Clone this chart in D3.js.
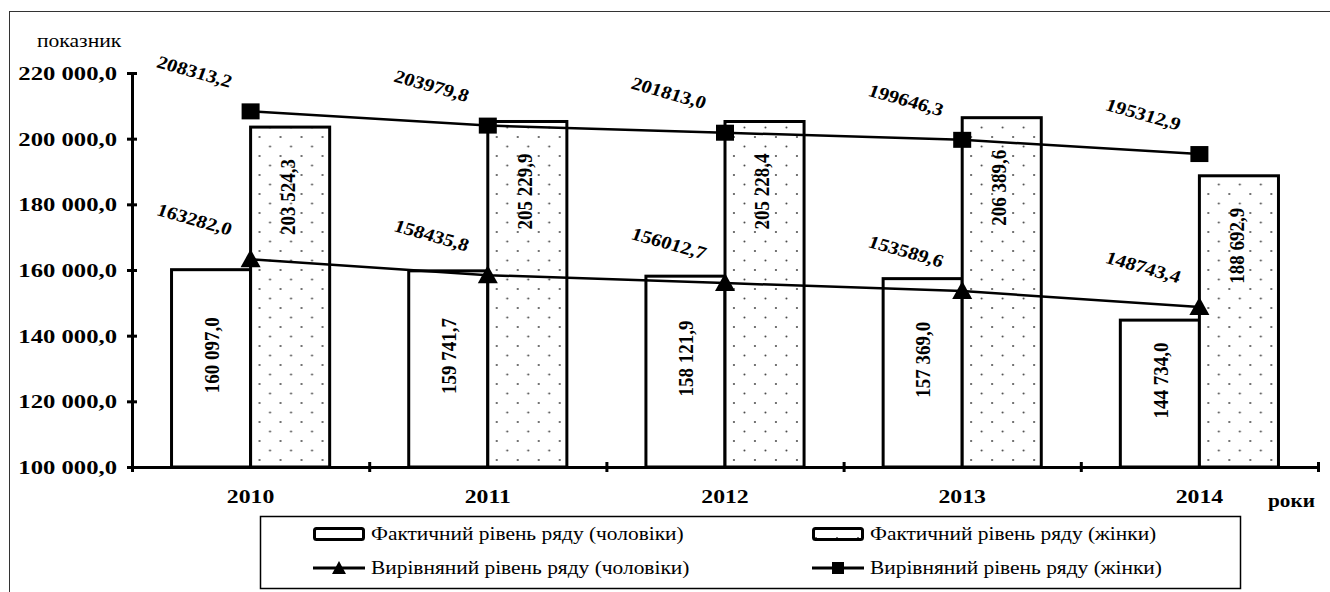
<!DOCTYPE html>
<html>
<head>
<meta charset="utf-8">
<script src="https://cdn.jsdelivr.net/npm/d3@7"></script>
<style>
  body { margin: 0; background: #fff; }
</style>
</head>
<body>
<div id="chart"></div>
<script>
// data
const years = ["2010", "2011", "2012", "2013", "2014"];
const menActual = [160097.0, 159741.7, 158121.9, 157369.0, 144734.0];
const womenActual = [203524.3, 205229.9, 205228.4, 206389.6, 188692.9];
const menTrend = [163282.0, 158435.8, 156012.7, 153589.6, 148743.4];
const womenTrend = [208313.2, 203979.8, 201813.0, 199646.3, 195312.9];
const yTicks = [100000, 120000, 140000, 160000, 180000, 200000, 220000];
const legendLabels = [
  "Фактичний рівень ряду (чоловіки)",
  "Фактичний рівень ряду (жінки)",
  "Вирівняний  рівень ряду  (чоловіки)",
  "Вирівняний рівень ряду (жінки)"
];

const width = 1330, height = 592;
const plotL = 132, plotR = 1318, plotT = 73, plotB = 467;
const FONT = "'Liberation Serif', Tinos, 'Times New Roman', 'DejaVu Serif', serif";

const locale = d3.formatLocale({decimal: ",", thousands: " ", grouping: [3], currency: ["", ""]});
const fmtBar = locale.format(",.1f");
const fmtTrend = locale.format(".1f");

const svg = d3.select("#chart").append("svg")
  .attr("width", width)
  .attr("height", height)
  .style("font-family", FONT);

// dotted fill for the women bars
const defs = svg.append("defs");
const pat = defs.append("pattern")
  .attr("id", "dots")
  .attr("patternUnits", "userSpaceOnUse")
  .attr("width", 21)
  .attr("height", 19);
pat.append("rect").attr("width", 21).attr("height", 19).attr("fill", "#fff");
pat.append("circle").attr("cx", 4).attr("cy", 4).attr("r", 1).attr("fill", "#444");
pat.append("circle").attr("cx", 14.5).attr("cy", 13.5).attr("r", 1).attr("fill", "#444");

// outer frame
svg.append("rect")
  .attr("x", 9.5).attr("y", 11.5)
  .attr("width", 1340).attr("height", 600)
  .attr("fill", "none").attr("stroke", "#333").attr("stroke-width", 1);

const x0 = d3.scaleBand().domain(years).range([plotL, plotR])
  .paddingInner(1 / 3).paddingOuter(1 / 6);
const x1 = d3.scaleBand().domain(["m", "w"]).range([0, x0.bandwidth()]);
const y = d3.scaleLinear().domain([100000, 220000]).range([plotB, plotT]);
const xEdges = d3.scaleLinear().domain([0, years.length]).range([plotL, plotR]);

// helper for serif text, stretched sideways like in the picture
function stretched(sel, x, yy, rot, sx) {
  return sel
    .style("font-family", FONT)
    .attr("fill", "#000")
    .attr("transform", `translate(${x},${yy}) scale(${sx || 1.2},1)` + (rot ? ` rotate(${rot})` : ""));
}

// y axis
const yAxis = svg.append("g")
  .attr("transform", `translate(${plotL},0)`)
  .call(d3.axisLeft(y).tickValues(yTicks).tickFormat(fmtBar).tickSize(5).tickSizeOuter(0));
yAxis.attr("font-family", null);
yAxis.select(".domain").attr("stroke-width", 3);
yAxis.selectAll(".tick line").attr("x1", -5).attr("x2", 5).attr("stroke-width", 3);
yAxis.selectAll(".tick text")
  .attr("x", null).attr("dy", "0.35em")
  .style("font-size", "19px").style("font-weight", "bold")
  .each(function () { stretched(d3.select(this), -15, 0, 0, 1.3); });

// x axis: ticks on category edges, labels on centers
const xAxis = svg.append("g")
  .attr("transform", `translate(0,${plotB})`)
  .call(d3.axisBottom(xEdges).ticks(years.length).tickFormat("").tickSizeOuter(0));
xAxis.select(".domain").attr("stroke-width", 3);
xAxis.selectAll(".tick line").attr("y1", -5).attr("y2", 5).attr("stroke-width", 3);

const xLabels = svg.append("g")
  .attr("transform", `translate(0,${plotB})`)
  .call(d3.axisBottom(x0).tickSize(0).tickPadding(0));
xLabels.attr("font-family", null);
xLabels.select(".domain").remove();
xLabels.selectAll(".tick text")
  .attr("y", null).attr("dy", null)
  .style("font-size", "19px").style("font-weight", "bold")
  .each(function () { stretched(d3.select(this), 0, 36, 0, 1.25); });

// bars
const groups = svg.append("g").selectAll("g")
  .data(years)
  .join("g")
  .attr("transform", d => `translate(${x0(d)},0)`);

groups.append("rect")
  .attr("x", x1("m"))
  .attr("y", (d, i) => y(menActual[i]))
  .attr("width", x1.bandwidth())
  .attr("height", (d, i) => plotB - y(menActual[i]))
  .attr("fill", "#fff").attr("stroke", "#000").attr("stroke-width", 3);

groups.append("rect")
  .attr("x", x1("w"))
  .attr("y", (d, i) => y(womenActual[i]))
  .attr("width", x1.bandwidth())
  .attr("height", (d, i) => plotB - y(womenActual[i]))
  .attr("fill", "url(#dots)").attr("stroke", "#000").attr("stroke-width", 3);

// trend lines
const cx = d => x0(d) + x0.bandwidth() / 2;
const line = d3.line().x(d => cx(d.year)).y(d => y(d.v));
const menPts = years.map((yr, i) => ({year: yr, v: menTrend[i]}));
const womenPts = years.map((yr, i) => ({year: yr, v: womenTrend[i]}));

svg.append("path").datum(menPts).attr("d", line)
  .attr("fill", "none").attr("stroke", "#000").attr("stroke-width", 2.5);
svg.append("path").datum(womenPts).attr("d", line)
  .attr("fill", "none").attr("stroke", "#000").attr("stroke-width", 2.5);

const tri = "M0,-9L10,9L-10,9Z";
svg.append("g").selectAll("path")
  .data(menPts).join("path")
  .attr("d", tri)
  .attr("transform", d => `translate(${cx(d.year)},${y(d.v) - 1})`)
  .attr("fill", "#000");

svg.append("g").selectAll("rect")
  .data(womenPts).join("rect")
  .attr("x", d => cx(d.year) - 9)
  .attr("y", d => y(d.v) - 8)
  .attr("width", 18).attr("height", 16)
  .attr("fill", "#000");

// bar value labels
groups.append("text")
  .attr("text-anchor", "middle").attr("dy", "0.35em")
  .style("font-size", "19px").style("font-weight", "bold")
  .text((d, i) => fmtBar(menActual[i]))
  .each(function (d, i) {
    const yc = (y(menActual[i]) + plotB) / 2 - 13;
    stretched(d3.select(this), x1("m") + x1.bandwidth() / 2, yc, -90, 1.15);
  });

groups.append("text")
  .attr("text-anchor", "middle").attr("dy", "0.35em")
  .style("font-size", "19px").style("font-weight", "bold")
  .text((d, i) => fmtBar(womenActual[i]))
  .each(function (d, i) {
    stretched(d3.select(this), x1("w") + x1.bandwidth() / 2 - 3, y(womenActual[i]) + 70, -90, 1.15);
  });

// trend value labels, tilted
function trendLabels(pts) {
  svg.append("g").selectAll("text")
    .data(pts).join("text")
    .attr("text-anchor", "middle").attr("dy", "0.35em")
    .style("font-size", "18px").style("font-weight", "bold")
    .text(d => fmtTrend(d.v))
    .each(function (d) {
      stretched(d3.select(this), cx(d.year) - 56, y(d.v) - 40, 18, 1.15);
    });
}
trendLabels(menPts);
trendLabels(womenPts);

// axis titles
stretched(svg.append("text"), 37, 47)
  .style("font-size", "18px")
  .text("показник");
stretched(svg.append("text"), 1268, 507, 0, 1.12)
  .style("font-size", "19px").style("font-weight", "bold")
  .text("роки");

// legend
const legend = svg.append("g");
legend.append("rect")
  .attr("x", 260.5).attr("y", 516.5)
  .attr("width", 980).attr("height", 72)
  .attr("fill", "#fff").attr("stroke", "#000").attr("stroke-width", 1.5);

const legItems = [
  {col: 0, row: 0, kind: "bar", fill: "#fff"},
  {col: 1, row: 0, kind: "bar", fill: "url(#dots)"},
  {col: 0, row: 1, kind: "tri"},
  {col: 1, row: 1, kind: "sq"}
];
const colX = [313, 812];
const rowY = [534, 568];

legItems.forEach((it, i) => {
  const gx = colX[it.col], gy = rowY[it.row];
  const g = legend.append("g").attr("transform", `translate(${gx},${gy})`);
  if (it.kind === "bar") {
    g.append("rect").attr("x", 1.5).attr("y", -5.5).attr("width", 49).attr("height", 11)
      .attr("rx", 2).attr("fill", it.fill).attr("stroke", "#000").attr("stroke-width", 3);
  } else {
    g.append("line").attr("x1", 0).attr("x2", 52).attr("y1", 0).attr("y2", 0)
      .attr("stroke", "#000").attr("stroke-width", 3);
    if (it.kind === "tri") {
      g.append("path").attr("d", "M26,-7L33,6L19,6Z").attr("fill", "#000");
    } else {
      g.append("rect").attr("x", 20).attr("y", -6).attr("width", 12).attr("height", 12).attr("fill", "#000");
    }
  }
  stretched(g.append("text"), 58, 0, 0, 1.19)
    .attr("dy", "0.35em")
    .style("font-size", "18px")
    .text(legendLabels[i]);
});
</script>
</body>
</html>
